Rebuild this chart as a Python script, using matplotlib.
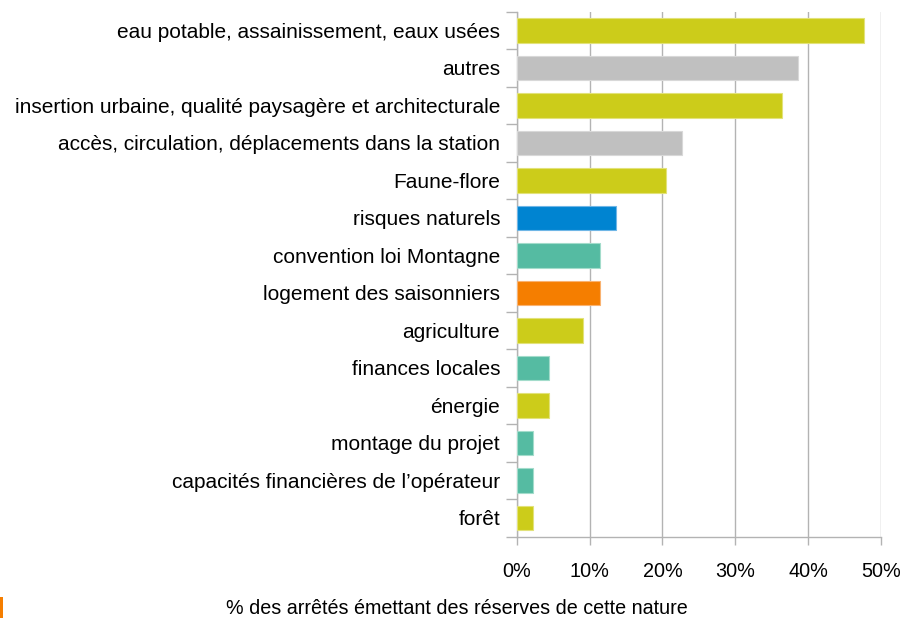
import matplotlib
matplotlib.use("Agg")
import matplotlib.pyplot as plt
from matplotlib.patches import Rectangle
from matplotlib.ticker import FixedLocator, PercentFormatter

categories = [
    "eau potable, assainissement, eaux usées",
    "autres",
    "insertion urbaine, qualité paysagère et architecturale",
    "accès, circulation, déplacements dans la station",
    "Faune-flore",
    "risques naturels",
    "convention loi Montagne",
    "logement des saisonniers",
    "agriculture",
    "finances locales",
    "énergie",
    "montage du projet",
    "capacités financières de l\u2019opérateur",
    "forêt",
]
values = [47.7, 38.6, 36.4, 22.7, 20.5, 13.6, 11.4, 11.4, 9.1, 4.5, 4.5, 2.3, 2.3, 2.3]
color_keys = ["y", "g", "y", "g", "y", "b", "t", "o", "y", "t", "y", "t", "t", "y"]
palette = {"y": "#CCCC1A", "g": "#C0C0C0", "b": "#0084D1", "t": "#55BBA2", "o": "#F57E00"}
edge_palette = {"y": "#E2E27A", "g": "#D8D8D8", "b": "#6FB6E6", "t": "#A3DCCB", "o": "#F9B270"}
xticks = [0, 10, 20, 30, 40, 50]
xlabel = "% des arrêtés émettant des réserves de cette nature"

plt.rcParams['font.family'] = ['Liberation Sans', 'DejaVu Sans']

fig = plt.figure(figsize=(9.05, 6.21), dpi=100)
ax = fig.add_axes([516.7 / 905, 1 - 536.7 / 621, (881 - 516.7) / 905, (536.7 - 11.7) / 621])

n = len(categories)
ypos = list(range(n))
ax.barh(ypos, values, height=0.66,
        color=[palette[k] for k in color_keys],
        edgecolor=[edge_palette[k] for k in color_keys], linewidth=0.8, zorder=3)
ax.set_ylim(n - 0.5, -0.5)
ax.set_xlim(0, 50)
ax.set_yticks(ypos)
ax.set_yticklabels(categories, fontsize=15.0, color="#000000")
ax.yaxis.set_minor_locator(FixedLocator([i - 0.5 for i in range(n + 1)]))
ax.tick_params(axis='y', which='major', length=0, pad=12)
ax.tick_params(axis='y', which='minor', length=8, width=1, color="#b3b3b3", direction='out')
ax.set_xticks(xticks)
ax.xaxis.set_major_formatter(PercentFormatter(decimals=0))
ax.tick_params(axis='x', which='major', length=6, width=1, color="#b3b3b3", labelsize=14.3, pad=12)

ax.grid(axis='x', color="#b3b3b3", linewidth=1, zorder=0)
for s in ['top', 'right']:
    ax.spines[s].set_visible(False)
for s in ['left', 'bottom']:
    ax.spines[s].set_color("#b3b3b3")
    ax.spines[s].set_linewidth(1)

fig.text(457 / 905, 1 - 609 / 621, xlabel, ha='center', va='center', fontsize=14.2, color="#000000")
fig.patches.append(Rectangle((0, 1 - 618 / 621), 3 / 905, 21 / 621, transform=fig.transFigure,
                             facecolor="#F57E00", edgecolor='none'))

fig.savefig("out.png", dpi=100)
